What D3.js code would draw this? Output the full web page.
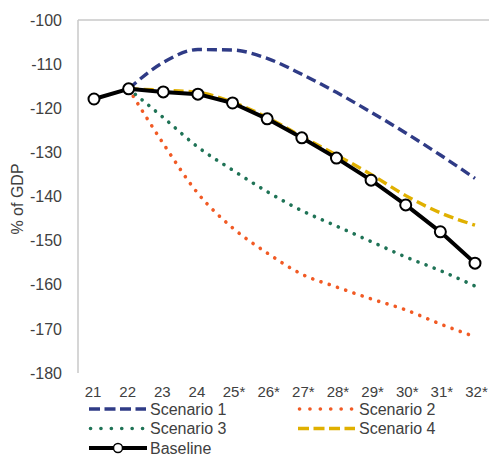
<!DOCTYPE html>
<html>
<head>
<meta charset="utf-8">
<script src="https://cdn.jsdelivr.net/npm/d3@7"></script>
<style>
  html, body { margin: 0; padding: 0; background: #fff; }
  svg { display: block; font-family: "Liberation Sans", Arial, sans-serif; }
</style>
</head>
<body>
<svg id="chart" width="489" height="465"></svg>
<script>
// Years on the category axis (* = projection)
const years = ["21", "22", "23", "24", "25*", "26*", "27*", "28*", "29*", "30*", "31*", "32*"];

// Net position, % of GDP
const baseline  = [-117.9, -115.6, -116.3, -116.8, -118.8, -122.4, -126.7, -131.3, -136.3, -141.9, -148.0, -155.1];
const scenario1 = [null, -115.6, -109.6, -106.7, -106.8, -108.7, -112.3, -116.4, -120.9, -125.6, -130.6, -135.9];
const scenario2 = [null, -115.6, -128.0, -139.3, -147.1, -152.8, -157.6, -160.5, -163.2, -165.7, -168.9, -171.8];
const scenario3 = [null, -115.6, -122.1, -128.8, -134.0, -138.9, -143.2, -146.7, -150.2, -153.7, -156.8, -160.3];
const scenario4 = [null, -115.6, -115.9, -116.4, -118.6, -122.1, -126.4, -130.6, -135.0, -139.8, -143.7, -146.5];

const yTicks = [-100, -110, -120, -130, -140, -150, -160, -170, -180];

const svg = d3.select("#chart");
const margin = { left: 78, right: 489, top: 20, bottom: 373 };

const x = d3.scalePoint().domain(years).range([94, 475]);
const y = d3.scaleLinear().domain([-180, -100]).range([margin.bottom, margin.top]);

// Category axis crosses at the top (-100) in grey; labels sit below the plot
svg.append("line")
  .attr("x1", margin.left).attr("x2", margin.right)
  .attr("y1", y(-100)).attr("y2", y(-100))
  .attr("stroke", "#c8c8c8").attr("stroke-width", 1.5);

svg.append("line")
  .attr("x1", margin.left).attr("x2", margin.left)
  .attr("y1", y(-100)).attr("y2", y(-180))
  .attr("stroke", "#c8c8c8").attr("stroke-width", 1.5);

// Y tick labels (plain hyphen for the sign)
const yAxis = d3.axisLeft(y).tickValues(yTicks).tickSize(0).tickPadding(0)
  .tickFormat((d) => String(d));
const gy = svg.append("g").attr("transform", `translate(62,0)`).call(yAxis);
gy.select(".domain").remove();
gy.selectAll("text")
  .attr("fill", "#404040")
  .style("font-size", "16px")
  .style("font-family", "Liberation Sans, Arial, sans-serif");

// X tick labels
const xAxis = d3.axisBottom(x).tickSize(0).tickPadding(0);
const gx = svg.append("g").attr("transform", `translate(0,386)`).call(xAxis);
gx.select(".domain").remove();
gx.selectAll("text")
  .attr("fill", "#404040")
  .attr("dy", "0.71em")
  .attr("dx", (d) => d.endsWith("*") ? "1" : "-1.5")
  .style("font-size", "15px")
  .style("font-family", "Liberation Sans, Arial, sans-serif");

// Y axis title
svg.append("text")
  .attr("transform", "translate(23,199) rotate(-90)")
  .attr("text-anchor", "middle")
  .attr("fill", "#404040")
  .style("font-size", "16px")
  .text("% of GDP");

const line = d3.line()
  .defined((d) => d !== null)
  .x((d, i) => x(years[i]))
  .y((d) => y(d))
  .curve(d3.curveMonotoneX);

const styles = {
  s1: { color: "#2f3b86", width: 3.4, dash: "10 5", cap: "butt" },
  s2: { color: "#f15a24", width: 3.6, dash: "0.1 8.6", cap: "round" },
  s3: { color: "#1f7356", width: 3.6, dash: "0.1 8.6", cap: "round" },
  s4: { color: "#e0b000", width: 3.4, dash: "10 5", cap: "butt" }
};

function drawSeries(values, st) {
  svg.append("path")
    .datum(values)
    .attr("fill", "none")
    .attr("stroke", st.color)
    .attr("stroke-width", st.width)
    .attr("stroke-dasharray", st.dash)
    .attr("stroke-linecap", st.cap)
    .attr("d", line);
}

drawSeries(scenario4, styles.s4);
drawSeries(scenario2, styles.s2);
drawSeries(scenario3, styles.s3);
drawSeries(scenario1, styles.s1);

// Baseline with open markers
const baseLine = d3.line().x((d, i) => x(years[i])).y((d) => y(d));
svg.append("path")
  .datum(baseline)
  .attr("fill", "none")
  .attr("stroke", "#000")
  .attr("stroke-width", 4)
  .attr("stroke-linejoin", "round")
  .attr("d", baseLine);

svg.selectAll("circle.base")
  .data(baseline)
  .enter().append("circle")
  .attr("class", "base")
  .attr("cx", (d, i) => x(years[i]))
  .attr("cy", (d) => y(d))
  .attr("r", 5.5)
  .attr("fill", "#fff")
  .attr("stroke", "#000")
  .attr("stroke-width", 2);

// Legend
const legendItems = [
  { label: "Scenario 1", st: styles.s1, lx: 89, ly: 409 },
  { label: "Scenario 2", st: styles.s2, lx: 298, ly: 409 },
  { label: "Scenario 3", st: styles.s3, lx: 89, ly: 428.5 },
  { label: "Scenario 4", st: styles.s4, lx: 298, ly: 428.5 },
  { label: "Baseline", st: null, lx: 89, ly: 448 }
];

const lg = svg.append("g");
legendItems.forEach((it) => {
  const g = lg.append("g");
  if (it.st) {
    g.append("line")
      .attr("x1", it.lx + (it.st.cap === "round" ? 1.5 : 0)).attr("x2", it.lx + 57)
      .attr("y1", it.ly).attr("y2", it.ly)
      .attr("stroke", it.st.color)
      .attr("stroke-width", it.st.width)
      .attr("stroke-dasharray", it.st.cap === "round" ? "0.1 10.3" : "11 4.5")
      .attr("stroke-linecap", it.st.cap);
  } else {
    g.append("line")
      .attr("x1", it.lx).attr("x2", it.lx + 58)
      .attr("y1", it.ly).attr("y2", it.ly)
      .attr("stroke", "#000").attr("stroke-width", 4);
    g.append("circle")
      .attr("cx", it.lx + 29).attr("cy", it.ly).attr("r", 4.5)
      .attr("fill", "#fff").attr("stroke", "#000").attr("stroke-width", 1.5);
  }
  g.append("text")
    .attr("x", it.lx + 61)
    .attr("y", it.ly)
    .attr("dy", "0.35em")
    .attr("fill", "#404040")
    .style("font-size", "16px")
    .text(it.label);
});
</script>
</body>
</html>
